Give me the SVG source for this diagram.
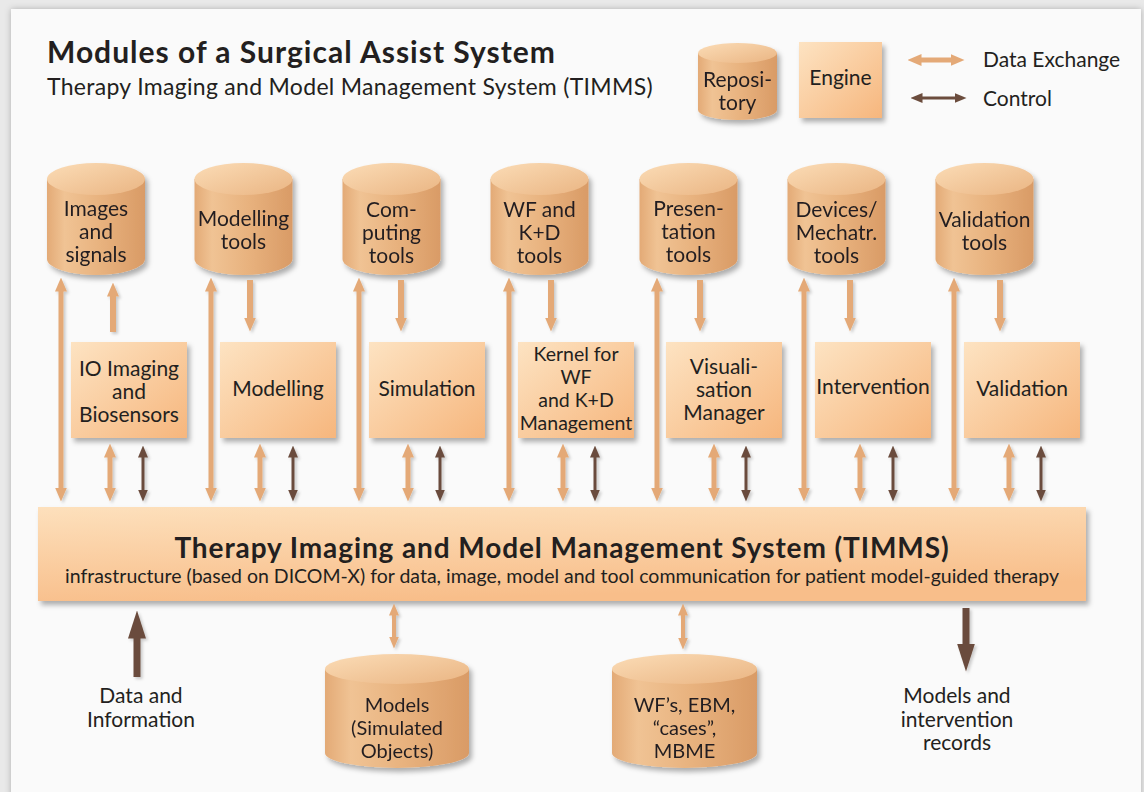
<svg xmlns="http://www.w3.org/2000/svg" width="1144" height="792" viewBox="0 0 1144 792">
<defs>
<style>
text{font-family:"Lato","Open Sans",sans-serif;fill:#231f20;text-anchor:middle}
.cyl{font-size:21px}
.cylb{font-size:20px}
.box{font-size:21px}
.lbl{font-size:21px}
.data{stroke:#e4a977;fill:none}
.ctrl{stroke:#6b4c3d;fill:none}
.body{fill:url(#gBody)}
.top{fill:url(#gTop)}
.eng{fill:url(#gBox);filter:url(#sh)}
</style>
<linearGradient id="gBody" x1="0" y1="0" x2="1" y2="0">
<stop offset="0" stop-color="#e3aa76"/>
<stop offset="0.18" stop-color="#f0c394"/>
<stop offset="0.55" stop-color="#e8b27e"/>
<stop offset="1" stop-color="#d99b66"/>
</linearGradient>
<linearGradient id="gTop" x1="0" y1="0" x2="1" y2="1">
<stop offset="0" stop-color="#fbdcb6"/>
<stop offset="1" stop-color="#eab583"/>
</linearGradient>
<linearGradient id="gBox" x1="0" y1="0" x2="1" y2="1">
<stop offset="0" stop-color="#fde3c2"/>
<stop offset="1" stop-color="#f6b67d"/>
</linearGradient>
<linearGradient id="gBar" x1="0" y1="0" x2="0.3" y2="1">
<stop offset="0" stop-color="#fde0bc"/>
<stop offset="1" stop-color="#f8be8a"/>
</linearGradient>
<filter id="sh" x="-10%" y="-10%" width="130%" height="140%">
<feDropShadow dx="3" dy="4" stdDeviation="2.5" flood-color="#000" flood-opacity="0.3"/>
</filter>
<filter id="ash" x="-50%" y="-10%" width="200%" height="130%">
<feDropShadow dx="2" dy="2" stdDeviation="1.5" flood-color="#000" flood-opacity="0.2"/>
</filter>
<filter id="psh" x="-5%" y="-5%" width="110%" height="110%">
<feDropShadow dx="0" dy="0" stdDeviation="3" flood-color="#000" flood-opacity="0.25"/>
</filter>
<marker id="md" markerUnits="userSpaceOnUse" markerWidth="14" markerHeight="12" refX="0.5" refY="6" orient="auto-start-reverse"><path d="M0,0 L14,6 L0,12 z" fill="#e4a977"/></marker>
<marker id="mds" markerUnits="userSpaceOnUse" markerWidth="12" markerHeight="10" refX="0.5" refY="5" orient="auto-start-reverse"><path d="M0,0 L12,5 L0,10 z" fill="#e4a977"/></marker>
<marker id="mc" markerUnits="userSpaceOnUse" markerWidth="12" markerHeight="10" refX="0.5" refY="5" orient="auto-start-reverse"><path d="M0,0 L12,5 L0,10 z" fill="#6b4c3d"/></marker>
<marker id="mbig" markerUnits="userSpaceOnUse" markerWidth="28" markerHeight="18" refX="0.5" refY="9" orient="auto-start-reverse"><path d="M0,0 L28,9 L0,18 z" fill="#6b4c3d"/></marker>
</defs>

<rect x="0" y="0" width="1144" height="792" fill="#e9e9e9"/>
<rect x="11" y="9" width="1130" height="800" fill="#fafafa" filter="url(#psh)"/>

<g id="title">
<text x="47" y="63" style="font-size:30px;font-weight:700;letter-spacing:1px;text-anchor:start">Modules of a Surgical Assist System</text>
<text x="47" y="95" style="font-size:23px;letter-spacing:0.3px;text-anchor:start">Therapy Imaging and Model Management System (TIMMS)</text>
</g>

<g id="legend">
<g id="legend-repository" transform="translate(737.5,0)" filter="url(#sh)">
<path class="body" d="M-39.5,53 L-39.5,110 A39.5,10 0 0 0 39.5,110 L39.5,53 z"/>
<ellipse class="top" cx="0" cy="53" rx="39.5" ry="10"/>
<text class="lbl" x="0" y="87">Reposi-</text>
<text class="lbl" x="0" y="110">tory</text>
</g>
<g id="legend-engine">
<rect class="eng" x="799" y="42" width="83" height="76"/>
<text class="lbl" x="840.5" y="85">Engine</text>
</g>
<line class="data" x1="921" y1="60" x2="951" y2="60" stroke-width="5" marker-start="url(#md)" marker-end="url(#md)"/>
<line class="ctrl" x1="922" y1="98" x2="955" y2="98" stroke-width="3" marker-start="url(#mc)" marker-end="url(#mc)"/>
<text class="lbl" x="983" y="67" style="text-anchor:start">Data Exchange</text>
<text class="lbl" x="983" y="106" style="text-anchor:start">Control</text>
</g>

<g id="repositories">
<g id="cyl-images" transform="translate(96,0)" filter="url(#sh)">
<path class="body" d="M-49,179 L-49,259 A49,16 0 0 0 49,259 L49,179 z"/><ellipse class="top" cx="0" cy="179" rx="49" ry="16"/>
<text class="cyl" x="0" y="216">Images</text><text class="cyl" x="0" y="239">and</text><text class="cyl" x="0" y="262">signals</text>
</g>
<g id="cyl-modelling" transform="translate(243.5,0)" filter="url(#sh)">
<path class="body" d="M-49,179 L-49,259 A49,16 0 0 0 49,259 L49,179 z"/><ellipse class="top" cx="0" cy="179" rx="49" ry="16"/>
<text class="cyl" x="0" y="226">Modelling</text><text class="cyl" x="0" y="249">tools</text>
</g>
<g id="cyl-computing" transform="translate(391.5,0)" filter="url(#sh)">
<path class="body" d="M-49,179 L-49,259 A49,16 0 0 0 49,259 L49,179 z"/><ellipse class="top" cx="0" cy="179" rx="49" ry="16"/>
<text class="cyl" x="0" y="217">Com-</text><text class="cyl" x="0" y="240">puting</text><text class="cyl" x="0" y="263">tools</text>
</g>
<g id="cyl-wf" transform="translate(539.5,0)" filter="url(#sh)">
<path class="body" d="M-49,179 L-49,259 A49,16 0 0 0 49,259 L49,179 z"/><ellipse class="top" cx="0" cy="179" rx="49" ry="16"/>
<text class="cyl" x="0" y="217">WF and</text><text class="cyl" x="0" y="240">K+D</text><text class="cyl" x="0" y="263">tools</text>
</g>
<g id="cyl-presentation" transform="translate(688.5,0)" filter="url(#sh)">
<path class="body" d="M-49,179 L-49,259 A49,16 0 0 0 49,259 L49,179 z"/><ellipse class="top" cx="0" cy="179" rx="49" ry="16"/>
<text class="cyl" x="0" y="216">Presen-</text><text class="cyl" x="0" y="239">tation</text><text class="cyl" x="0" y="262">tools</text>
</g>
<g id="cyl-devices" transform="translate(836.5,0)" filter="url(#sh)">
<path class="body" d="M-49,179 L-49,259 A49,16 0 0 0 49,259 L49,179 z"/><ellipse class="top" cx="0" cy="179" rx="49" ry="16"/>
<text class="cyl" x="0" y="217">Devices/</text><text class="cyl" x="0" y="240">Mechatr.</text><text class="cyl" x="0" y="263">tools</text>
</g>
<g id="cyl-validation" transform="translate(984.5,0)" filter="url(#sh)">
<path class="body" d="M-49,179 L-49,259 A49,16 0 0 0 49,259 L49,179 z"/><ellipse class="top" cx="0" cy="179" rx="49" ry="16"/>
<text class="cyl" x="0" y="227">Validation</text><text class="cyl" x="0" y="250">tools</text>
</g>
<g id="cyl-models" transform="translate(397,0)" filter="url(#sh)">
<path class="body" d="M-72,669 L-72,753 A72,15 0 0 0 72,753 L72,669 z"/><ellipse class="top" cx="0" cy="669" rx="72" ry="15"/>
<text class="cylb" x="0" y="712">Models</text><text class="cylb" x="0" y="735">(Simulated</text><text class="cylb" x="0" y="758">Objects)</text>
</g>
<g id="cyl-wfs" transform="translate(684.5,0)" filter="url(#sh)">
<path class="body" d="M-72.5,669 L-72.5,753 A72.5,15 0 0 0 72.5,753 L72.5,669 z"/><ellipse class="top" cx="0" cy="669" rx="72.5" ry="15"/>
<text class="cylb" x="0" y="712">WF’s, EBM,</text><text class="cylb" x="0" y="735">“cases”,</text><text class="cylb" x="0" y="758">MBME</text>
</g>
</g>

<g id="engines">
<g id="box-io"><rect class="eng" x="71" y="342" width="116" height="96"/>
<text class="box" x="129" y="376">IO Imaging</text><text class="box" x="129" y="399">and</text><text class="box" x="129" y="422">Biosensors</text></g>
<g id="box-modelling"><rect class="eng" x="220" y="342" width="116" height="96"/>
<text class="box" x="278" y="396">Modelling</text></g>
<g id="box-simulation"><rect class="eng" x="369" y="342" width="116" height="96"/>
<text class="box" x="427" y="396">Simulation</text></g>
<g id="box-kernel"><rect class="eng" x="518" y="342" width="116" height="96"/>
<text class="box" x="576" y="361" style="font-size:19.5px">Kernel for</text><text class="box" x="576" y="384" style="font-size:19.5px">WF</text><text class="box" x="576" y="407" style="font-size:19.5px">and K+D</text><text class="box" x="576" y="430" style="font-size:19.5px">Management</text></g>
<g id="box-visualisation"><rect class="eng" x="666" y="342" width="116" height="96"/>
<text class="box" x="724" y="374">Visuali-</text><text class="box" x="724" y="397">sation</text><text class="box" x="724" y="420">Manager</text></g>
<g id="box-intervention"><rect class="eng" x="815" y="342" width="116" height="96"/>
<text class="box" x="873" y="394">Intervention</text></g>
<g id="box-validation"><rect class="eng" x="964" y="342" width="116" height="96"/>
<text class="box" x="1022" y="396">Validation</text></g>
</g>

<g id="timms">
<rect x="38" y="507" width="1048" height="94" fill="url(#gBar)" filter="url(#sh)"/>
<text x="562" y="558" style="font-size:28px;font-weight:700;letter-spacing:0.9px">Therapy Imaging and Model Management System (TIMMS)</text>
<text x="562" y="583" style="font-size:19.5px">infrastructure (based on DICOM-X) for data, image, model and tool communication for patient model-guided therapy</text>
</g>

<g id="connectors" filter="url(#ash)">
<g class="data" stroke-width="5">
<line x1="61" y1="291" x2="61" y2="488" marker-start="url(#md)" marker-end="url(#md)"/>
<line x1="211" y1="291" x2="211" y2="488" marker-start="url(#md)" marker-end="url(#md)"/>
<line x1="359" y1="291" x2="359" y2="488" marker-start="url(#md)" marker-end="url(#md)"/>
<line x1="509" y1="291" x2="509" y2="488" marker-start="url(#md)" marker-end="url(#md)"/>
<line x1="657" y1="291" x2="657" y2="488" marker-start="url(#md)" marker-end="url(#md)"/>
<line x1="804" y1="291" x2="804" y2="488" marker-start="url(#md)" marker-end="url(#md)"/>
<line x1="954" y1="291" x2="954" y2="488" marker-start="url(#md)" marker-end="url(#md)"/>
</g>
<g class="data" stroke-width="6">
<line x1="113" y1="332" x2="113" y2="296" marker-end="url(#md)"/>
<line x1="250" y1="280" x2="250" y2="318" marker-end="url(#md)"/>
<line x1="401" y1="280" x2="401" y2="318" marker-end="url(#md)"/>
<line x1="551" y1="280" x2="551" y2="318" marker-end="url(#md)"/>
<line x1="700" y1="280" x2="700" y2="318" marker-end="url(#md)"/>
<line x1="850" y1="280" x2="850" y2="318" marker-end="url(#md)"/>
<line x1="1000" y1="280" x2="1000" y2="318" marker-end="url(#md)"/>
</g>
<g class="data" stroke-width="5">
<line x1="110" y1="457" x2="110" y2="488" marker-start="url(#md)" marker-end="url(#md)"/>
<line x1="260" y1="457" x2="260" y2="488" marker-start="url(#md)" marker-end="url(#md)"/>
<line x1="408" y1="457" x2="408" y2="488" marker-start="url(#md)" marker-end="url(#md)"/>
<line x1="563" y1="457" x2="563" y2="488" marker-start="url(#md)" marker-end="url(#md)"/>
<line x1="714" y1="457" x2="714" y2="488" marker-start="url(#md)" marker-end="url(#md)"/>
<line x1="860" y1="457" x2="860" y2="488" marker-start="url(#md)" marker-end="url(#md)"/>
<line x1="1009" y1="457" x2="1009" y2="488" marker-start="url(#md)" marker-end="url(#md)"/>
</g>
<g class="ctrl" stroke-width="3">
<line x1="143" y1="457" x2="143" y2="490" marker-start="url(#mc)" marker-end="url(#mc)"/>
<line x1="293" y1="457" x2="293" y2="490" marker-start="url(#mc)" marker-end="url(#mc)"/>
<line x1="440" y1="457" x2="440" y2="490" marker-start="url(#mc)" marker-end="url(#mc)"/>
<line x1="595" y1="457" x2="595" y2="490" marker-start="url(#mc)" marker-end="url(#mc)"/>
<line x1="746" y1="457" x2="746" y2="490" marker-start="url(#mc)" marker-end="url(#mc)"/>
<line x1="893" y1="457" x2="893" y2="490" marker-start="url(#mc)" marker-end="url(#mc)"/>
<line x1="1041" y1="457" x2="1041" y2="490" marker-start="url(#mc)" marker-end="url(#mc)"/>
</g>
<line class="data" stroke-width="4" x1="394" y1="615" x2="394" y2="637" marker-start="url(#mds)" marker-end="url(#mds)"/>
<line class="data" stroke-width="4" x1="683" y1="615" x2="683" y2="638" marker-start="url(#mds)" marker-end="url(#mds)"/>
<line class="ctrl" stroke-width="7" x1="137" y1="677" x2="137" y2="638" marker-end="url(#mbig)"/>
<line class="ctrl" stroke-width="7" x1="966" y1="608" x2="966" y2="644" marker-end="url(#mbig)"/>
</g>

<g id="io-labels">
<text class="lbl" x="141" y="703">Data and</text>
<text class="lbl" x="141" y="727">Information</text>
<text class="lbl" x="957" y="703">Models and</text>
<text class="lbl" x="957" y="727">intervention</text>
<text class="lbl" x="957" y="750">records</text>
</g>
</svg>
